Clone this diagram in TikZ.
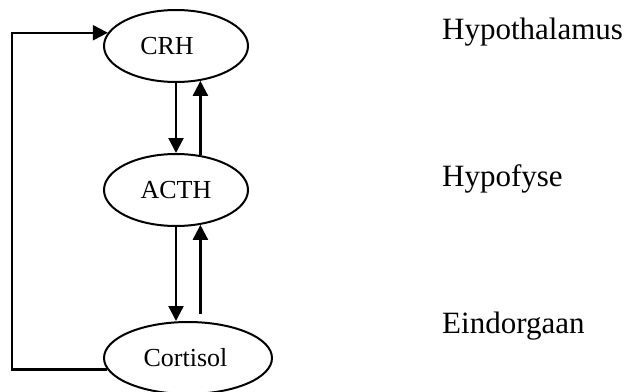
\documentclass[tikz,border=0pt]{standalone}
\usepackage{fontspec}
\setmainfont{Liberation Serif}
\usetikzlibrary{shapes.geometric,arrows.meta}
\begin{document}
\begin{tikzpicture}[x=1pt,y=-1pt,
  hormone/.style={draw, ellipse, line width=2pt, inner sep=0pt,
    minimum width=144pt, minimum height=72pt,
    font=\fontsize{26}{30}\selectfont},
  level/.style={anchor=base west, inner sep=0pt,
    font=\fontsize{31}{36}\selectfont},
  arr/.style={line width=2.3pt, -{Triangle[length=15pt,width=15pt]}}]
\useasboundingbox (0,0) rectangle (629,391);
\node[hormone] (crh) at (176,46) {CRH\hspace*{18pt}};
\node[hormone] (acth) at (176,190) {ACTH};
\node[hormone, minimum width=168pt] (cort) at (188,358) {Cortisol\hspace*{5pt}};
\node[level] (l1) at (442,39) {Hypothalamus};
\node[level] (l2) at (442,186) {Hypofyse};
\node[level] (l3) at (442,333) {Eindorgaan};
\coordinate (fb) at (12,0);
% CRH <-> ACTH
\draw[arr] (crh.south) -- (acth.north);
\draw[arr] (acth.55) -- (crh.-55);
% ACTH <-> Cortisol
\draw[arr] (acth.south) -- (acth.south |- cort.north);
\draw[arr] ([yshift=7pt]acth.-55 |- cort.north) -- (acth.-55);
% feedback loop
\draw[arr, line join=miter] (cort.188) -- (cort.188 -| fb) |- (crh.169);
\end{tikzpicture}
\end{document}
